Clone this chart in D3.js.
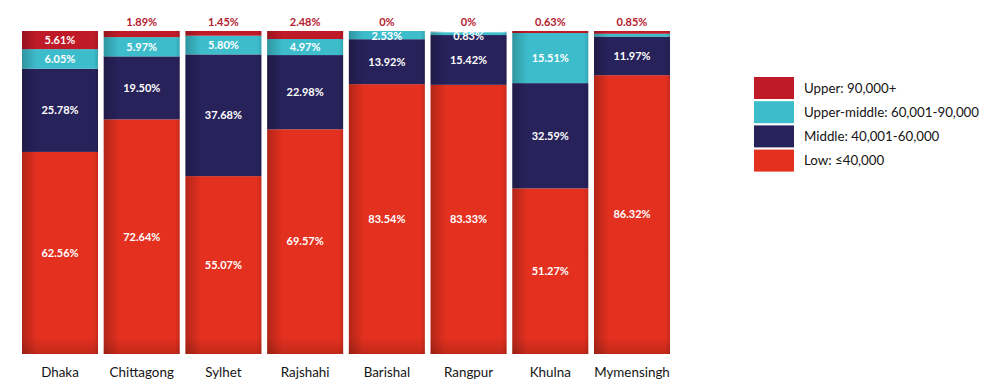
<!DOCTYPE html>
<html>
<head>
<meta charset="utf-8">
<script src="https://cdn.jsdelivr.net/npm/d3@7/dist/d3.min.js"></script>
<style>
  html, body { margin: 0; padding: 0; background: #fff; }
  svg { display: block; }
</style>
</head>
<body>
<svg id="chart" width="989" height="391"></svg>
<script>
const categories = ["Dhaka","Chittagong","Sylhet","Rajshahi","Barishal","Rangpur","Khulna","Mymensingh"];
const low         = [62.56, 72.64, 55.07, 69.57, 83.54, 83.33, 51.27, 86.32];
const middle      = [25.78, 19.50, 37.68, 22.98, 13.92, 15.42, 32.59, 11.97];
const upperMiddle = [6.05, 5.97, 5.80, 4.97, 2.53, 0.83, 15.51, 0.86];
const upper       = [5.61, 1.89, 1.45, 2.48, 0, 0, 0.63, 0.85];
// labels shown on the chart (null = not labelled)
const upperMiddleLabels = ["6.05%","5.97%","5.80%","4.97%","2.53%","0.83%","15.51%",null];
const upperLabels = ["5.61%","1.89%","1.45%","2.48%","0%","0%","0.63%","0.85%"];

const seriesKeys = ["low","middle","upperMiddle","upper"];
const seriesNames = {
  upper: "Upper: 90,000+",
  upperMiddle: "Upper-middle: 60,001-90,000",
  middle: "Middle: 40,001-60,000",
  low: "Low: \u226440,000"
};
const colors = { low: "#e3301f", middle: "#28225b", upperMiddle: "#3dbdcc", upper: "#bf1a27" };

const table = categories.map((c, i) => ({
  cat: c, low: low[i], middle: middle[i], upperMiddle: upperMiddle[i], upper: upper[i], idx: i
}));

const svg = d3.select("#chart");
const defs = svg.append("defs");
const shade = defs.append("linearGradient").attr("id","shadeX").attr("x1","0").attr("x2","1").attr("y1","0").attr("y2","0");
shade.append("stop").attr("offset","0").attr("stop-color","#000").attr("stop-opacity",0.22);
shade.append("stop").attr("offset","0.06").attr("stop-color","#000").attr("stop-opacity",0.15);
shade.append("stop").attr("offset","0.2").attr("stop-color","#000").attr("stop-opacity",0.0);
shade.append("stop").attr("offset","0.94").attr("stop-color","#000").attr("stop-opacity",0.0);
shade.append("stop").attr("offset","1").attr("stop-color","#000").attr("stop-opacity",0.12);
const shadeY = defs.append("linearGradient").attr("id","shadeY").attr("x1","0").attr("x2","0").attr("y1","0").attr("y2","1");
shadeY.append("stop").attr("offset","0.95").attr("stop-color","#000").attr("stop-opacity",0);
shadeY.append("stop").attr("offset","1").attr("stop-color","#000").attr("stop-opacity",0.15);

const x = d3.scaleBand().domain(categories).range([22, 670]).paddingInner(0.07).paddingOuter(0);
const y = d3.scaleLinear().domain([0, 100]).range([354, 31]);

const stack = d3.stack().keys(seriesKeys);
const stacked = stack(table);

const g = svg.append("g");
stacked.forEach(layer => {
  g.append("g").selectAll("rect").data(layer).join("rect")
    .attr("x", d => x(d.data.cat))
    .attr("width", x.bandwidth())
    .attr("y", d => y(d[1]))
    .attr("height", d => Math.max(0, y(d[0]) - y(d[1])))
    .attr("fill", colors[layer.key]);
});

// shading overlays
g.append("g").selectAll("rect").data(table).join("rect")
  .attr("x", d => x(d.cat)).attr("width", x.bandwidth())
  .attr("y", y(100)).attr("height", y(0) - y(100))
  .attr("fill", "url(#shadeX)");
g.append("g").selectAll("rect").data(table).join("rect")
  .attr("x", d => x(d.cat)).attr("width", x.bandwidth())
  .attr("y", y(100)).attr("height", y(0) - y(100))
  .attr("fill", "url(#shadeY)");

const valueFont = "Lato, 'Open Sans', sans-serif";
const lblG = svg.append("g")
  .attr("font-family", valueFont).attr("font-weight", 700).attr("font-size", 11)
  .attr("text-anchor", "middle");

function segLabel(key, labels) {
  const layer = stacked.find(l => l.key === key);
  layer.forEach((d, i) => {
    const lab = labels[i];
    if (lab == null) return;
    const cy = Math.max((y(d[0]) + y(d[1])) / 2, y(100) + 5.5);
    lblG.append("text")
      .attr("x", x(d.data.cat) + x.bandwidth() / 2)
      .attr("y", cy)
      .attr("dy", "0.35em")
      .attr("fill", "#ffffff")
      .text(lab);
  });
}
segLabel("low", low.map(v => v.toFixed(2) + "%"));
segLabel("middle", middle.map(v => v.toFixed(2) + "%"));
segLabel("upperMiddle", upperMiddleLabels);

// upper labels: inside if large, else above the bar
const upLayer = stacked.find(l => l.key === "upper");
upLayer.forEach((d, i) => {
  const inside = upper[i] >= 4;
  lblG.append("text")
    .attr("x", x(d.data.cat) + x.bandwidth() / 2)
    .attr("y", inside ? (y(d[0]) + y(d[1])) / 2 : y(100) - 8.5)
    .attr("dy", "0.35em")
    .attr("fill", inside ? "#ffffff" : "#b5202e")
    .text(upperLabels[i]);
});

// category axis
const xAxis = d3.axisBottom(x).tickSize(0).tickPadding(0);
const axG = svg.append("g").attr("transform", `translate(0, ${y(0)})`).call(xAxis);
axG.select(".domain").remove();
axG.selectAll("text")
  .attr("font-family", "Lato, 'Open Sans', sans-serif")
  .attr("font-size", 13.4)
  .attr("fill", "#141414")
  .attr("y", 18.5)
  .attr("dy", "0.35em");

// legend
const legendOrder = ["upper","upperMiddle","middle","low"];
const leg = svg.append("g").attr("transform", "translate(754, 77)");
const legItem = leg.selectAll("g").data(legendOrder).join("g")
  .attr("transform", (d, i) => `translate(0, ${i * 24.2})`);
legItem.append("rect").attr("width", 40).attr("height", 22).attr("fill", d => colors[d]);
legItem.append("text")
  .attr("x", 50).attr("y", 11).attr("dy", "0.35em")
  .attr("font-family", "Lato, 'Open Sans', sans-serif")
  .attr("font-size", 13.3).attr("fill", "#141414")
  .text(d => seriesNames[d]);
</script>
</body>
</html>
